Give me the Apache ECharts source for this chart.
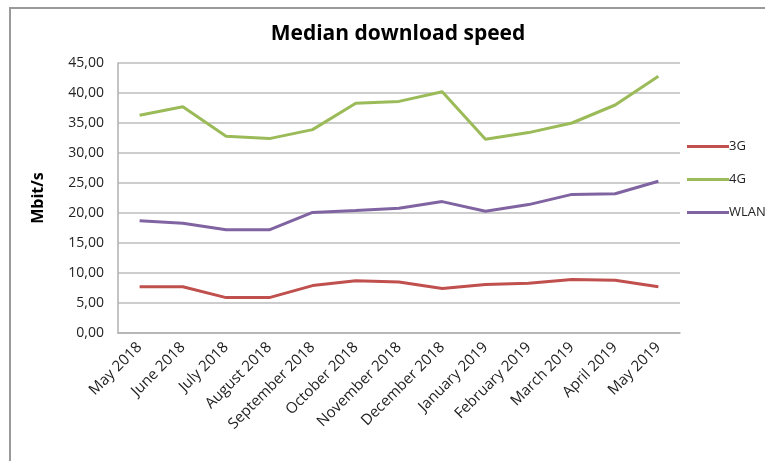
<!DOCTYPE html>
<html>
<head>
<meta charset="utf-8">
<script src="https://cdn.jsdelivr.net/npm/echarts@6/dist/echarts.min.js"></script>
<style>
html,body{margin:0;padding:0;background:#fff;}
#chart{width:765px;height:461px;}
</style>
</head>
<body>
<div id="chart"></div>
<script>
var categories = ["May 2018","June 2018","July 2018","August 2018","September 2018","October 2018","November 2018","December 2018","January 2019","February 2019","March 2019","April 2019","May 2019"];
var series3G = [7.7, 7.7, 5.9, 5.9, 7.9, 8.7, 8.5, 7.4, 8.1, 8.3, 8.9, 8.8, 7.7];
var series4G = [36.3, 37.7, 32.8, 32.4, 33.9, 38.3, 38.6, 40.2, 32.3, 33.4, 35.0, 38.0, 42.8];
var seriesWLAN = [18.7, 18.3, 17.2, 17.2, 20.1, 20.4, 20.8, 21.9, 20.3, 21.4, 23.1, 23.2, 25.3];
var seriesNames = ["3G", "4G", "WLAN"];
var titleText = "Median download speed";
var yAxisName = "Mbit/s";

var font = "'Open Sans', 'Noto Sans', sans-serif";
var chart = echarts.init(document.getElementById('chart'), null, {renderer: 'canvas'});
function mk(name, data, color) {
  return {
    name: name, type: 'line', data: data, symbol: 'none',
    lineStyle: {color: color, width: 3}, itemStyle: {color: color},
    emphasis: {disabled: true}
  };
}
chart.setOption({
  animation: false,
  backgroundColor: '#fff',
  graphic: [{
    type: 'rect', shape: {x: 10, y: 8, width: 800, height: 500},
    style: {fill: 'none', stroke: '#9a9a9a', lineWidth: 2}, z: -1
  }],
  title: {
    text: titleText, left: 393, top: 19, textAlign: 'center',
    textStyle: {fontFamily: font, fontSize: 21, fontWeight: 'bold', color: '#000'}
  },
  legend: {
    orient: 'vertical', left: 682, top: 135, itemGap: 20,
    itemWidth: 42, itemHeight: 14,
    icon: 'path://M0,6 L42,6 L42,9 L0,9 Z',
    textStyle: {fontFamily: font, fontSize: 13, color: '#222', padding: [0,0,0,-5]},
    data: seriesNames
  },
  grid: {left: 118, right: 85, top: 63, bottom: 128, containLabel: false},
  xAxis: {
    type: 'category', data: categories, boundaryGap: true,
    axisLine: {lineStyle: {color: '#b0b0b0', width: 1.5}},
    axisTick: {show: false},
    axisLabel: {rotate: 45, interval: 0, margin: 12, fontFamily: font, fontSize: 15, color: '#222'}
  },
  yAxis: {
    type: 'value', min: 0, max: 45, interval: 5,
    name: yAxisName, nameLocation: 'middle', nameGap: 72, nameRotate: 90,
    nameTextStyle: {fontFamily: font, fontSize: 16, fontWeight: 'bold', color: '#000', padding: [0, 0, 0, 0]},
    axisLine: {show: true, lineStyle: {color: '#b0b0b0', width: 1.5}},
    axisTick: {show: false},
    splitLine: {lineStyle: {color: '#bdbdbd', width: 1.5}},
    axisLabel: {
      fontFamily: font, fontSize: 14, color: '#222', margin: 14,
      formatter: function (v) { return v.toFixed(2).replace('.', ','); }
    }
  },
  series: [
    mk(seriesNames[0], series3G, '#c0504d'),
    mk(seriesNames[1], series4G, '#9bbb59'),
    mk(seriesNames[2], seriesWLAN, '#8064a2')
  ]
});
</script>
</body>
</html>
